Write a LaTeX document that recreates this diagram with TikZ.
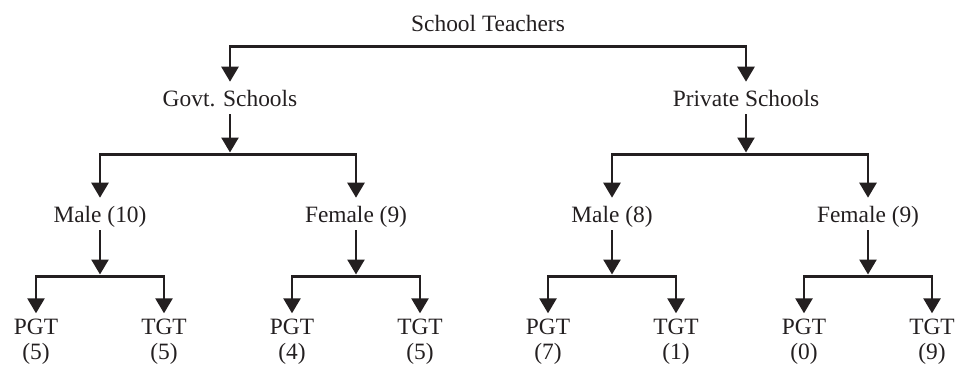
\documentclass[tikz,border=0pt]{standalone}
\usepackage{fontspec}
\setmainfont{Liberation Serif}
\usetikzlibrary{arrows.meta}
\definecolor{ink}{HTML}{231F20}
\begin{document}
\begin{tikzpicture}[x=0.5pt, y=-0.5pt, line width=1.3pt, draw=ink, text=ink,
    lbl/.style={font=\fontsize{11.7}{12.5}\selectfont, inner xsep=0pt, inner ysep=1.5pt,
      text height=10pt, text depth=2pt, anchor=base},
    leaf/.style={font=\fontsize{11.7}{12.5}\selectfont, align=center, inner xsep=0pt,
      inner ysep=2pt, anchor=north},
    feed/.style={-{Triangle[width=8.5pt, length=7.5pt]}, shorten >=1pt},
    split/.style={{Triangle[width=8.5pt, length=7.5pt]}-{Triangle[width=8.5pt, length=7.5pt]}}]
    \useasboundingbox (0,0) rectangle (956,369);
    % top
    \node[lbl] (st) at (488,32) {School Teachers};
    \node[lbl] (gov) at (230,106) {Govt. Schools};
    \node[lbl] (prv) at (746,106) {Private Schools};
    \coordinate (b0) at (488,46.7);
    \draw[split] (gov) |- (b0) -| (prv);
    % second level
    \node[lbl] (gm) at (100,222) {Male (10)};
    \node[lbl] (gf) at (356,222) {Female (9)};
    \node[lbl] (pm) at (612,222) {Male (8)};
    \node[lbl] (pf) at (868,222) {Female (9)};
    \coordinate (b1) at (230,154.5);
    \coordinate (b2) at (746,154.5);
    \draw[feed] (gov) -- (b1);
    \draw[feed] (prv) -- (b2);
    \draw[split] (gm) |- (b1) -| (gf);
    \draw[split] (pm) |- (b2) -| (pf);
    % leaves
    \node[leaf] (gmp) at (36,313.3) {PGT\\(5)};
    \node[leaf] (gmt) at (164,313.3) {TGT\\(5)};
    \node[leaf] (gfp) at (292,313.3) {PGT\\(4)};
    \node[leaf] (gft) at (420,313.3) {TGT\\(5)};
    \node[leaf] (pmp) at (548,313.3) {PGT\\(7)};
    \node[leaf] (pmt) at (676,313.3) {TGT\\(1)};
    \node[leaf] (pfp) at (804,313.3) {PGT\\(0)};
    \node[leaf] (pft) at (932,313.3) {TGT\\(9)};
    \coordinate (c1) at (100,276.5);
    \coordinate (c2) at (356,276.5);
    \coordinate (c3) at (612,276.5);
    \coordinate (c4) at (868,276.5);
    \draw[feed] (gm) -- (c1);
    \draw[feed] (gf) -- (c2);
    \draw[feed] (pm) -- (c3);
    \draw[feed] (pf) -- (c4);
    \draw[split] (gmp) |- (c1) -| (gmt);
    \draw[split] (gfp) |- (c2) -| (gft);
    \draw[split] (pmp) |- (c3) -| (pmt);
    \draw[split] (pfp) |- (c4) -| (pft);
\end{tikzpicture}
\end{document}
